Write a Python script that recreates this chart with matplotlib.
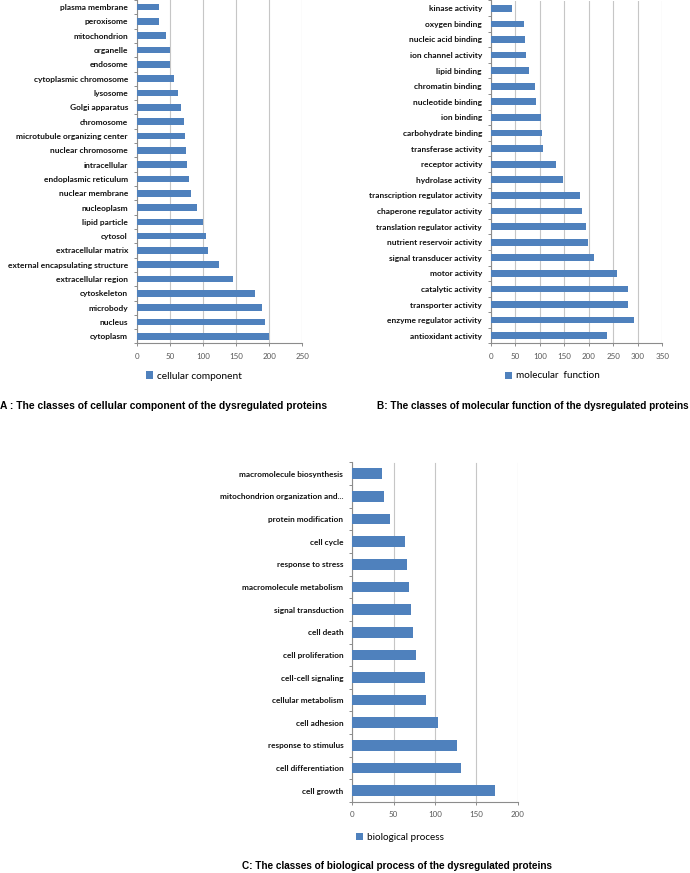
import numpy as np
import matplotlib
matplotlib.use("Agg")
import matplotlib.pyplot as plt
from matplotlib.patches import Patch
from matplotlib import font_manager

# ---------------- data ----------------
cc_labels = ["plasma membrane", "peroxisome", "mitochondrion", "organelle", "endosome",
             "cytoplasmic chromosome", "lysosome", "Golgi apparatus", "chromosome",
             "microtubule organizing center", "nuclear chromosome", "intracellular",
             "endoplasmic reticulum", "nuclear membrane", "nucleoplasm", "lipid particle",
             "cytosol", "extracellular matrix", "external encapsulating structure",
             "extracellular region", "cytoskeleton", "microbody", "nucleus", "cytoplasm"]
cc_values = [34, 34, 44, 50, 50, 56, 62, 67, 71, 72, 74, 76, 79, 82, 91, 100, 104, 108,
             124, 145, 179, 189, 194, 199]
cc_ticks = [0, 50, 100, 150, 200, 250]

mf_labels = ["kinase activity", "oxygen binding", "nucleic acid binding", "ion channel activity",
             "lipid binding", "chromatin binding", "nucleotide binding", "ion binding",
             "carbohydrate binding", "transferase activity", "receptor activity",
             "hydrolase activity", "transcription regulator activity",
             "chaperone regulator activity", "translation regulator activity",
             "nutrient reservoir activity", "signal transducer activity", "motor activity",
             "catalytic activity", "transporter activity", "enzyme regulator activity",
             "antioxidant activity"]
mf_values = [42, 67, 69, 71, 77, 89, 91, 103, 105, 107, 132, 147, 181, 185, 194, 198, 211,
             257, 279, 280, 292, 237]
mf_ticks = [0, 50, 100, 150, 200, 250, 300, 350]

bp_labels = ["macromolecule biosynthesis", "mitochondrion organization and...",
             "protein modification", "cell cycle", "response to stress",
             "macromolecule metabolism", "signal transduction", "cell death",
             "cell proliferation", "cell-cell signaling", "cellular metabolism",
             "cell adhesion", "response to stimulus", "cell differentiation", "cell growth"]
bp_values = [35.5, 38.5, 45, 64, 66.5, 68, 71, 73, 76.5, 88, 89.5, 104, 126, 131, 172]
bp_ticks = [0, 50, 100, 150, 200]

# ---------------- style ----------------
W, H = 690, 873
BAR = "#4F81BD"
GRID = "#c6c6c6"
AXC = "#8c8c8c"
LABEL_FONT = ["Lato", "DejaVu Sans"]
_names = {f.name for f in font_manager.fontManager.ttflist}
if "Liberation Sans Narrow" in _names:
    CAP_FONT = ["Liberation Sans Narrow", "DejaVu Sans"]
else:
    CAP_FONT = ["Liberation Sans", "DejaVu Sans"]

fig = plt.figure(figsize=(W / 100, H / 100), dpi=100)
renderer = fig.canvas.get_renderer()


def rect(left, top, right, bottom):
    return [left / W, 1 - bottom / H, (right - left) / W, (bottom - top) / H]


def fit_size(s, target_px, family, weight="normal"):
    t = fig.text(0, 0, s, fontsize=10, family=family, weight=weight)
    w = t.get_window_extent(renderer).width
    t.remove()
    return 10 * target_px / w


def panel(r, labels, values, ticks, lab_fs, num_fs, bar_h):
    ax = fig.add_axes(r)
    n = len(labels)
    y = np.arange(n)
    ax.barh(y, values, height=bar_h, color=BAR, edgecolor="none", zorder=3)
    ax.set_ylim(n - 0.5, -0.5)
    ax.set_xlim(ticks[0], ticks[-1])
    ax.set_xticks(ticks)
    ax.set_xticklabels([str(t) for t in ticks], fontsize=num_fs, family=LABEL_FONT,
                       color="#595959")
    ax.set_yticks(y)
    ax.set_yticklabels(labels, fontsize=lab_fs, family=LABEL_FONT, weight="bold",
                       color="#111111")
    ax.set_yticks(np.arange(n + 1) - 0.5, minor=True)
    ax.tick_params(axis="y", which="major", length=0, pad=6.5)
    ax.tick_params(axis="y", which="minor", length=2.5, color=AXC, width=0.7)
    ax.tick_params(axis="x", which="major", length=2.5, color=AXC, width=0.7, pad=4)
    ax.xaxis.grid(True, color=GRID, lw=0.8, zorder=0)
    ax.set_axisbelow(True)
    for s in ("top", "right"):
        ax.spines[s].set_visible(False)
    for s in ("left", "bottom"):
        ax.spines[s].set_color(AXC)
        ax.spines[s].set_linewidth(0.8)
    ax.set_facecolor("none")
    return ax


lab_fs_ab = fit_size("external encapsulating structure", 120, LABEL_FONT, "bold")
lab_fs_c = fit_size("macromolecule biosynthesis", 104, LABEL_FONT, "bold")
num_fs = fit_size("250", 14, LABEL_FONT)

axA = panel(rect(137, 0, 302.3, 343.5), cc_labels, cc_values, cc_ticks, lab_fs_ab, num_fs, 0.46)
axB = panel(rect(491, 0.5, 662.3, 343.5), mf_labels, mf_values, mf_ticks, lab_fs_ab, num_fs, 0.43)
axC = panel(rect(352.3, 462.5, 517.7, 802), bp_labels, bp_values, bp_ticks, lab_fs_c, num_fs, 0.47)


def legend(label, cx, cy, target_px):
    fs = fit_size(label, target_px, LABEL_FONT)
    fig.legend(handles=[Patch(facecolor=BAR, edgecolor="none")], labels=[label],
               loc="center", bbox_to_anchor=(cx / W, 1 - cy / H), frameon=False,
               prop={"family": LABEL_FONT, "size": fs}, handlelength=0.7,
               handleheight=0.7, handletextpad=0.4, borderpad=0, borderaxespad=0)


legend("cellular component", 194, 376, 85)
legend("molecular  function", 552, 376, 84)
legend("biological process", 400, 837, 77)


def caption(s, x, y, target_px):
    fs = fit_size(s, target_px, CAP_FONT, "bold")
    fig.text(x / W, 1 - y / H, s, fontsize=fs, family=CAP_FONT, weight="bold",
             ha="left", va="center", color="#000000")


caption("A : The classes of cellular component of the dysregulated proteins", 0, 406, 324)
caption("B: The classes of molecular function of the dysregulated proteins", 377, 406, 312)
caption("C: The classes of biological process of the dysregulated proteins", 242, 866, 312)

fig.savefig("out.png", dpi=100, facecolor="white")
